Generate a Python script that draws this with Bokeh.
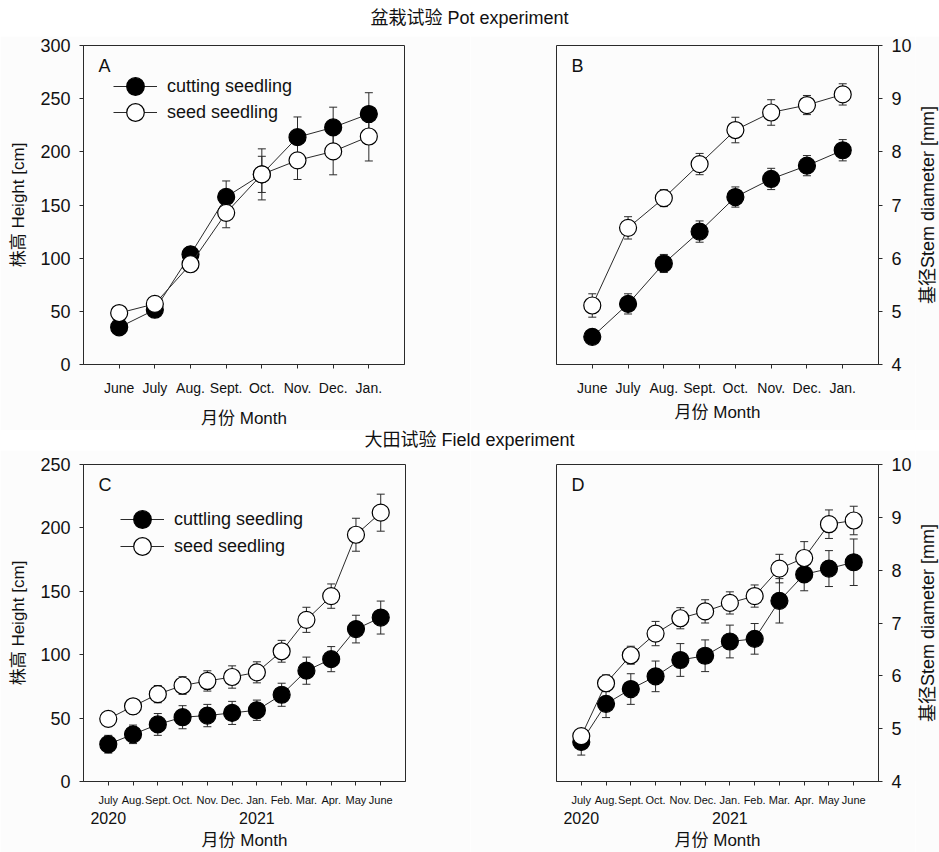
import math
from bokeh.plotting import figure
from bokeh.models import (ColumnDataSource, Whisker, TeeHead, FixedTicker, Legend, LegendItem,
                          LinearAxis, Label, Div, Range1d)
from bokeh.layouts import column, row
from bokeh.embed import file_html
from bokeh.resources import INLINE

# ---------------- data ----------------
pot_months = ["June", "July", "Aug.", "Sept.", "Oct.", "Nov.", "Dec.", "Jan."]
field_months = ["July", "Aug.", "Sept.", "Oct.", "Nov.", "Dec.", "Jan.", "Feb.", "Mar.", "Apr.", "May", "June"]
field_years = ["2020", "2021"]
field_year_first_month = ["July", "Jan."]

# A: pot experiment, height (cm)
a_cut = [35, 51.5, 103.6, 157.6, 178.8, 213.8, 223, 235.6]
a_cut_err = [3, 3, 7, 15, 24, 19, 19, 20]
a_seed = [48.4, 57, 94.3, 142.6, 178.8, 192, 200.4, 214.4]
a_seed_err = [3, 3, 4, 14, 17, 18, 22, 23]

# B: pot experiment, stem diameter (mm)
b_cut = [4.52, 5.14, 5.90, 6.50, 7.15, 7.49, 7.74, 8.03]
b_cut_err = [0.1, 0.19, 0.17, 0.2, 0.19, 0.2, 0.19, 0.2]
b_seed = [5.11, 6.57, 7.13, 7.77, 8.41, 8.74, 8.88, 9.08]
b_seed_err = [0.22, 0.21, 0.16, 0.2, 0.24, 0.24, 0.18, 0.2]

# C: field experiment, height (cm)
c_cut = [29.4, 37.2, 45, 50.7, 52, 54.1, 56.2, 68.4, 87.4, 96.5, 120.2, 129.3]
c_cut_err = [7, 7.3, 8.6, 9.1, 8.8, 9.1, 8, 9.1, 10.7, 9.9, 10.9, 13]
c_seed = [49.4, 59.3, 68.9, 75.7, 79.3, 82.4, 86.1, 102.7, 127.5, 146.2, 194.6, 212]
c_seed_err = [5.7, 6, 6.8, 7, 8, 8.8, 8.3, 8.6, 9.9, 9.6, 13, 14.6]

# D: field experiment, stem diameter (mm)
d_cut = [4.75, 5.47, 5.75, 5.99, 6.30, 6.38, 6.65, 6.70, 7.42, 7.92, 8.03, 8.15]
d_cut_err = [0.25, 0.26, 0.29, 0.29, 0.31, 0.3, 0.31, 0.29, 0.42, 0.31, 0.34, 0.44]
d_seed = [4.86, 5.86, 6.39, 6.80, 7.09, 7.22, 7.38, 7.51, 8.03, 8.23, 8.87, 8.94]
d_seed_err = [0.1, 0.16, 0.17, 0.23, 0.2, 0.22, 0.21, 0.21, 0.27, 0.31, 0.27, 0.27]

title_pot = "盆栽试验 Pot experiment"
title_field = "大田试验  Field experiment"
ylabel_height = "株高 Height [cm]"
ylabel_diam = "基径Stem diameter [mm]"
xlabel = "月份 Month"
legend_pot = ["cutting seedling", "seed seedling"]
legend_field = ["cuttling seedling", "seed seedling"]

# ---------------- style ----------------
FONT = "Liberation Sans, Noto Sans CJK SC"
BG = "#fcfcfc"
INK = "#111111"
LINE = "#2a2a2a"


def style_axis(ax, size):
    ax.axis_line_color = LINE
    ax.axis_line_width = 1
    ax.major_tick_line_color = LINE
    ax.major_tick_out = 4
    ax.major_tick_in = 0
    ax.minor_tick_line_color = None
    ax.major_label_text_font = FONT
    ax.major_label_text_font_size = size
    ax.major_label_text_color = INK
    ax.axis_label_text_font = FONT
    ax.axis_label_text_font_style = "normal"
    ax.axis_label_text_font_size = "17px"
    ax.axis_label_text_color = INK


def panel(months, cut, cut_err, seed, seed_err, yr, ystep, ylabel, letter, side,
          w, h, borders, legend_labels=None, legend_pos=None, month_size="14px",
          month_standoff=11, xlabel_standoff=10, years=None, year_standoff=3, label_standoff=4):
    n = len(months)
    xs = list(range(1, n + 1))
    bl, br, bt, bb = borders
    p = figure(width=w, height=h, output_backend="svg", toolbar_location=None, tools="",
               x_range=Range1d(0, n + 1), y_range=Range1d(*yr), y_axis_location=side,
               min_border_left=bl, min_border_right=br, min_border_top=bt, min_border_bottom=bb)
    p.background_fill_color = BG
    p.border_fill_color = BG
    p.outline_line_color = LINE
    p.outline_line_width = 1
    p.xgrid.grid_line_color = None
    p.ygrid.grid_line_color = None

    xa = p.xaxis[0]
    xa.ticker = FixedTicker(ticks=xs)
    xa.major_label_overrides = {x: m for x, m in zip(xs, months)}
    style_axis(xa, month_size)
    xa.major_label_standoff = month_standoff

    ya = p.yaxis[0]
    ya.ticker = FixedTicker(ticks=[yr[0] + i * ystep for i in range(int(round((yr[1] - yr[0]) / ystep)) + 1)])
    style_axis(ya, "18px")
    ya.major_label_standoff = 9
    if side == "left":
        ya.axis_label = ylabel
        ya.axis_label_standoff = 9

    if years is not None:
        yrs, first = years
        ticks = [months.index(m) + 1 for m in first]
        yax = LinearAxis(ticker=FixedTicker(ticks=ticks),
                         major_label_overrides={t: y for t, y in zip(ticks, yrs)})
        style_axis(yax, "16px")
        yax.axis_line_color = None
        yax.major_tick_line_color = None
        yax.major_tick_out = 0
        yax.major_label_standoff = year_standoff
        yax.axis_label = xlabel
        yax.axis_label_standoff = label_standoff
        p.add_layout(yax, "below")
    else:
        xa.axis_label = xlabel
        xa.axis_label_standoff = xlabel_standoff

    renderers = []
    for vals, errs, fill in ((cut, cut_err, "#000000"), (seed, seed_err, "#ffffff")):
        src = ColumnDataSource(dict(x=xs, y=vals,
                                    lo=[v - e for v, e in zip(vals, errs)],
                                    hi=[v + e for v, e in zip(vals, errs)]))
        wk = Whisker(base="x", upper="hi", lower="lo", source=src, dimension="height",
                     line_color=LINE, line_width=1,
                     upper_head=TeeHead(size=8, line_color=LINE, line_width=1),
                     lower_head=TeeHead(size=8, line_color=LINE, line_width=1))
        p.add_layout(wk)
        renderers.append((src, fill))

    items = []
    for i, (src, fill) in enumerate(renderers):
        lr = p.line("x", "y", source=src, line_color=LINE, line_width=1)
        sr = p.scatter("x", "y", source=src, size=17, marker="circle",
                       fill_color=fill, line_color="#000000", line_width=1.2)
        if legend_labels:
            items.append(LegendItem(label=legend_labels[i], renderers=[lr, sr]))

    if legend_labels:
        lx, ly0, ly1 = legend_pos
        for item, ly in zip(items, (ly0, ly1)):
            lg = Legend(items=[item], location=(lx, ly), glyph_width=44, glyph_height=44,
                        label_height=44, spacing=0, padding=0, margin=0, label_standoff=10,
                        label_text_font=FONT, label_text_font_size="18px", label_text_color=INK,
                        border_line_alpha=0, background_fill_alpha=0)
            p.add_layout(lg)

    p.add_layout(Label(x=0, y=yr[1], x_offset=15, y_offset=-20, text=letter,
                       text_baseline="middle", text_align="left",
                       text_font=FONT, text_font_size="18px", text_color=INK))
    return p


def side_label(text, w, h, bt, bb):
    """Narrow strip holding a right-hand axis title that reads bottom-to-top."""
    q = figure(width=w, height=h, output_backend="svg", toolbar_location=None, tools="",
               x_range=Range1d(0, 1), y_range=Range1d(0, 1), x_axis_type=None, y_axis_type=None,
               min_border_left=0, min_border_right=0, min_border_top=bt, min_border_bottom=bb)
    q.background_fill_color = BG
    q.border_fill_color = BG
    q.outline_line_color = None
    q.xgrid.grid_line_color = None
    q.ygrid.grid_line_color = None
    q.add_layout(Label(x=0.5, y=0.5, text=text, angle=math.pi / 2,
                       text_align="center", text_baseline="middle",
                       text_font=FONT, text_font_size="18px", text_color=INK))
    return q


pA = panel(pot_months, a_cut, a_cut_err, a_seed, a_seed_err, (0, 300), 50, ylabel_height, "A", "left",
           470, 394, (83, 66, 9, 65), legend_pot, (30, 256, 230), "14px", 11, 10)
pB = panel(pot_months, b_cut, b_cut_err, b_seed, b_seed_err, (4, 10), 1, ylabel_diam, "B", "right",
           445, 394, (86, 37, 9, 65), None, None, "14px", 11, 4)
lB = side_label(ylabel_diam, 24, 394, 9, 65)
pC = panel(field_months, c_cut, c_cut_err, c_seed, c_seed_err, (0, 250), 50, ylabel_height, "C", "left",
           470, 402, (83, 65, 14, 68), legend_field, (37, 240, 213), "11px", 8, 0,
           years=(field_years, field_year_first_month), year_standoff=3, label_standoff=4)
pD = panel(field_months, d_cut, d_cut_err, d_seed, d_seed_err, (4, 10), 1, ylabel_diam, "D", "right",
           445, 402, (86, 37, 14, 68), None, None, "11px", 8, 0,
           years=(field_years, field_year_first_month), year_standoff=3, label_standoff=4)
lD = side_label(ylabel_diam, 24, 402, 14, 68)


def title_div(t, h):
    return Div(text=('<div style="text-align:center;width:939px;font-size:18px;line-height:%dpx;'
                     'color:#111;font-family:\'Liberation Sans\',\'Noto Sans CJK SC\',sans-serif;">' % h
                     + t + '</div>'),
               width=939, height=h, margin=(0, 0, 0, 0))


layout = column(title_div(title_pot, 36), row(pA, pB, lB), title_div(title_field, 20), row(pC, pD, lD))

open("out.html", "w").write(file_html(layout, INLINE))
